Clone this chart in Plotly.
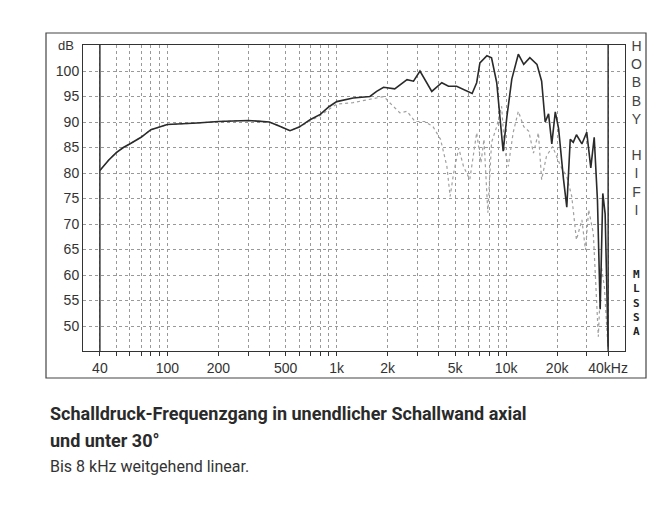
import numpy as np
import plotly.graph_objects as go

# axial response (black)
f_axial = [40, 45, 50, 55, 60, 70, 80, 100, 150, 200, 300, 400, 450, 530, 600, 700, 800, 900, 1000,
           1250, 1570, 1720, 1890, 2200, 2600, 2840, 3100, 3400, 3640, 4170, 4570, 5100, 5850, 6300,
           6700, 7000, 7700, 8200, 8800, 9200, 9600, 10100, 10800, 11800, 12700, 13800, 15200, 16200,
           17000, 17800, 18600, 19500, 20400, 21800, 22800, 23900, 24900, 26000, 28000, 29900, 31600,
           33100, 34600, 35900, 37200, 38400, 40000]
db_axial = [80.5, 82.5, 84, 85, 85.7, 87, 88.5, 89.5, 89.8, 90.1, 90.3, 90, 89.3, 88.3, 89, 90.5, 91.5, 93, 94,
            94.7, 95, 96, 96.8, 96.5, 98.3, 98, 100, 97.7, 96, 97.7, 97, 97, 96, 95.6,
            97.7, 101.6, 103, 102.6, 97.7, 91, 84.3, 91, 98.4, 103.3, 101.3, 102.6, 101.3, 98,
            90, 91.6, 85.7, 92, 88.7, 78.8, 73.3, 86.6, 86, 87.5, 85.7, 88, 81,
            87, 74.6, 53.3, 76, 72, 46]

# 30 degree response (grey)
f_30 = [40, 45, 50, 55, 60, 70, 80, 100, 150, 200, 300, 400, 450, 530, 600, 700, 800, 900, 1000,
        1250, 1570, 1900, 2050, 2360, 2600, 2900, 3300, 3700, 4100, 4470, 4670, 4900, 5250, 5600, 6100,
        6700, 7100, 7400, 7800, 8200, 8800, 9400, 9800, 10300, 11000, 11800, 12700, 13600, 14500, 15500,
        16200, 17300, 18800, 21000, 22800, 24400, 26000, 28000, 29400, 30700, 32700, 35000, 36500,
        38000, 40000]
db_30 = [80.5, 82.5, 84, 85, 85.7, 87, 88.5, 89.5, 89.8, 90.1, 90.3, 90, 89.3, 88.3, 89, 90.3, 91.3, 92.5, 93.5,
         93.8, 94.4, 95, 93.8, 91.8, 92.1, 90.1, 90.1, 89.1, 86.6, 81.3, 75.4, 80, 84.9, 81.3, 78.7,
         87.9, 82, 86.6, 72.2, 86, 89.1, 93.1, 84.6, 81.3, 87.9, 92.1, 89.1, 88.2, 83.9, 87.9,
         78.7, 83.3, 85.2, 81.3, 79.3, 75.4, 66.9, 70.8, 64.9, 72.8, 68.2, 47.9, 61.6,
         57.7, 45.2]

x_labels = {40: "40", 100: "100", 200: "200", 500: "500", 1000: "1k", 2000: "2k",
            5000: "5k", 10000: "10k", 20000: "20k", 40000: "40kHz"}
y_ticks = [50, 55, 60, 65, 70, 75, 80, 85, 90, 95, 100]

grid_f = [m * 10 ** e for e in range(1, 5) for m in range(1, 10) if 40 <= m * 10 ** e <= 40000]

fig = go.Figure()
fig.add_trace(go.Scatter(x=f_30, y=db_30, mode="lines",
                         line=dict(color="#a0a0a0", width=1.2, dash="dot")))
fig.add_trace(go.Scatter(x=f_axial, y=db_axial, mode="lines",
                         line=dict(color="#2a2a2a", width=1.6)))

fig.update_layout(
    width=666, height=520, showlegend=False,
    paper_bgcolor="white", plot_bgcolor="white",
    margin=dict(l=75, r=49, t=37, b=177),
    font=dict(family="Liberation Sans", size=14, color="#333"),
)
fig.update_xaxes(type="log", range=[np.log10(31.8), np.log10(50300)],
                 tickvals=grid_f, ticktext=[x_labels.get(v, "") for v in grid_f],
                 tickangle=0, showgrid=True, gridcolor="#999", griddash="dot", gridwidth=1,
                 ticks="outside", ticklen=4, tickcolor="#333",
                 showline=True, linecolor="#333", linewidth=1, mirror=True, zeroline=False)
fig.update_yaxes(range=[45.1, 105.1], tickvals=y_ticks,
                 showgrid=True, gridcolor="#999", griddash="dot", gridwidth=1,
                 ticks="", showline=True, linecolor="#333", linewidth=1, mirror=True, zeroline=False)

# thick bounding lines at 40 Hz and 40 kHz
for fv in (40, 40000):
    fig.add_shape(type="line", xref="x", yref="paper", x0=fv, x1=fv, y0=0, y1=1,
                  line=dict(color="#333", width=1.5))

# outer frame
fig.add_shape(type="rect", xref="paper", yref="paper",
              x0=(38 - 75) / 542, x1=(638 - 75) / 542, y0=(343 - 370) / 306, y1=(343 - 25) / 306,
              line=dict(color="#444", width=1.2))

fig.add_annotation(text="dB", xref="paper", yref="paper", x=-0.012, y=1.0,
                   xanchor="right", yanchor="middle", showarrow=False, font=dict(size=13))
fig.add_annotation(text="<br>".join("HOBBY") + "<br><br>" + "<br>".join("HIFI"),
                   xref="paper", yref="paper", x=(628 - 75) / 542, y=(343 - 28) / 306,
                   xanchor="center", yanchor="top", showarrow=False,
                   font=dict(size=14, color="#444"))
fig.add_annotation(text="<b>" + "<br>".join("MLSSA") + "</b>",
                   xref="paper", yref="paper", x=(628 - 75) / 542, y=(343 - 258) / 306,
                   xanchor="center", yanchor="top", showarrow=False,
                   font=dict(family="DejaVu Sans Mono", size=11, color="#222"))

cap = "Roboto"
fig.add_annotation(text="<b>Schalldruck-Frequenzgang in unendlicher Schallwand axial</b>",
                   xref="paper", yref="paper", x=(40 - 75) / 542, y=(343 - 405) / 306,
                   xanchor="left", yanchor="middle", showarrow=False,
                   font=dict(family=cap, size=18, color="#2a2a2a"))
fig.add_annotation(text="<b>und unter 30°</b>",
                   xref="paper", yref="paper", x=(40 - 75) / 542, y=(343 - 432) / 306,
                   xanchor="left", yanchor="middle", showarrow=False,
                   font=dict(family=cap, size=18, color="#2a2a2a"))
fig.add_annotation(text="Bis 8 kHz weitgehend linear.",
                   xref="paper", yref="paper", x=(40 - 75) / 542, y=(343 - 458) / 306,
                   xanchor="left", yanchor="middle", showarrow=False,
                   font=dict(family=cap, size=16, color="#333"))

fig.write_html("out.html")
